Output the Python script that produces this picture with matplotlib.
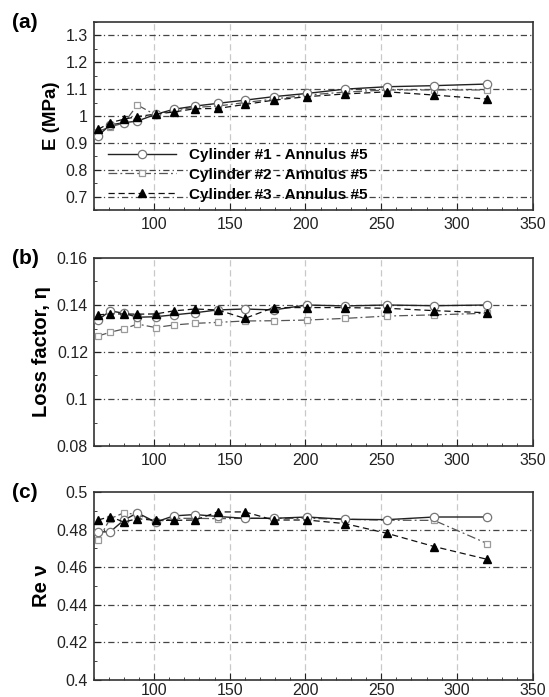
import matplotlib
matplotlib.use("Agg")
import matplotlib.pyplot as plt
from matplotlib.ticker import MultipleLocator, FuncFormatter

plt.rcParams['font.family'] = ['Liberation Sans', 'DejaVu Sans']

freq = [63, 71, 80, 89, 101, 113, 127, 142, 160, 179, 201, 226, 254, 285, 320]
labels = ["Cylinder #1 - Annulus #5", "Cylinder #2 - Annulus #5", "Cylinder #3 - Annulus #5"]

E1 = [0.926, 0.967, 0.975, 0.981, 1.006, 1.025, 1.037, 1.047, 1.059, 1.072, 1.084, 1.100, 1.109, 1.113, 1.119]
E2 = [0.942, 0.960, 0.973, 1.041, 1.004, 1.022, 1.032, 1.037, 1.050, 1.063, 1.078, 1.089, 1.097, 1.097, 1.097]
E3 = [0.950, 0.975, 0.988, 0.998, 1.007, 1.015, 1.027, 1.028, 1.043, 1.059, 1.072, 1.082, 1.090, 1.078, 1.063]

L1 = [0.1336, 0.1375, 0.1365, 0.1348, 0.1350, 0.1358, 0.1367, 0.1379, 0.1383, 0.1379, 0.1400, 0.1396, 0.1400, 0.1397, 0.1400]
L2 = [0.1268, 0.1284, 0.1298, 0.1319, 0.1304, 0.1315, 0.1322, 0.1326, 0.1332, 0.1333, 0.1336, 0.1343, 0.1353, 0.1358, 0.1365]
L3 = [0.1358, 0.1362, 0.1362, 0.1361, 0.1362, 0.1375, 0.1383, 0.1379, 0.1343, 0.1389, 0.1389, 0.1389, 0.1386, 0.1376, 0.1367]

R1 = [0.4788, 0.4788, 0.4850, 0.4889, 0.4840, 0.4873, 0.4880, 0.4870, 0.4860, 0.4860, 0.4867, 0.4855, 0.4853, 0.4867, 0.4867]
R2 = [0.4743, 0.4858, 0.4889, 0.4880, 0.4840, 0.4860, 0.4860, 0.4858, 0.4860, 0.4860, 0.4860, 0.4855, 0.4850, 0.4849, 0.4726]
R3 = [0.4851, 0.4869, 0.4840, 0.4858, 0.4849, 0.4849, 0.4851, 0.4894, 0.4894, 0.4851, 0.4851, 0.4832, 0.4780, 0.4710, 0.4642]

x_ticks = [100, 150, 200, 250, 300, 350]
yticks_a = [0.7, 0.8, 0.9, 1.0, 1.1, 1.2, 1.3]
yticks_b = [0.08, 0.10, 0.12, 0.14, 0.16]
yticks_c = [0.40, 0.42, 0.44, 0.46, 0.48, 0.50]

W, H = 549, 697
fig = plt.figure(figsize=(W / 100, H / 100), dpi=100)

def make_axes(top_px, bot_px):
    left, right = 93.5, 532.5
    return fig.add_axes([left / W, 1 - bot_px / H, (right - left) / W, (bot_px - top_px) / H])

axA = make_axes(22, 210)
axB = make_axes(258, 446)
axC = make_axes(492, 680)

gfmt = FuncFormatter(lambda v, p: ('%g' % round(v, 4)))

def style(ax, ylim, yticks, ylabel, panel, yminor, lsize=13.5, xpad=5):
    ax.set_xlim(60, 350)
    ax.set_ylim(*ylim)
    ax.set_xticks(x_ticks)
    ax.set_yticks(yticks)
    ax.xaxis.set_minor_locator(MultipleLocator(10))
    ax.yaxis.set_minor_locator(MultipleLocator(yminor))
    ax.yaxis.set_major_formatter(gfmt)
    ax.tick_params(which='both', direction='in', top=False, right=False, labelsize=11.5, colors='#222')
    ax.tick_params(which='major', length=5, width=0.8)
    ax.tick_params(which='minor', length=2.5, width=0.6)
    ax.tick_params(axis='x', pad=xpad)
    ax.tick_params(axis='y', pad=4)
    for s in ax.spines.values():
        s.set_linewidth(1.2)
        s.set_color('#333')
    for xv in x_ticks[:-1]:
        ax.axvline(xv, color='#c8c8c8', lw=0.9, ls=(0, (5, 3)), zorder=0)
    for yv in yticks:
        if ylim[0] < yv < ylim[1]:
            ax.axhline(yv, color='#444', lw=0.9, ls=(0, (5, 2.5, 1, 2.5)), zorder=0)
    ax.set_ylabel(ylabel, fontsize=lsize, fontweight='bold', labelpad=4)
    ax.text(-0.186, 1.0, panel, transform=ax.transAxes, fontsize=15, fontweight='bold',
            ha='left', va='center')

def plot_series(ax, y1, y2, y3):
    ax.plot(freq, y2, ls=(0, (7, 2.5, 1.5, 2.5)), color='#555', lw=0.9, marker='s', ms=5,
            mfc='white', mec='#9a9a9a', mew=0.9, label=labels[1], zorder=3)
    ax.plot(freq, y1, ls='-', color='#222', lw=1.0, marker='o', ms=6,
            mfc='white', mec='#777', mew=0.9, label=labels[0], zorder=4)
    ax.plot(freq, y3, ls=(0, (5, 3)), color='#111', lw=0.9, marker='^', ms=6,
            mfc='black', mec='black', label=labels[2], zorder=5)

plot_series(axA, E1, E2, E3)
plot_series(axB, L1, L2, L3)
plot_series(axC, R1, R2, R3)

style(axA, (0.65, 1.35), yticks_a, 'E (MPa)', '(a)', 0.05)
style(axB, (0.08, 0.16), yticks_b, 'Loss factor, η', '(b)', 0.01, lsize=14.5)
style(axC, (0.40, 0.50), yticks_c, 'Re ν', '(c)', 0.01, lsize=14.5, xpad=2)

h, l = axA.get_legend_handles_labels()
order = [1, 0, 2]
leg = axA.legend([h[i] for i in order], [l[i] for i in order], loc='lower left',
                 bbox_to_anchor=(0.02, 0.012), frameon=False, handlelength=4.45,
                 handletextpad=0.8, labelspacing=0.38, borderaxespad=0.0,
                 prop={'weight': 'bold', 'size': 11})

fig.savefig('out.png', dpi=100)
